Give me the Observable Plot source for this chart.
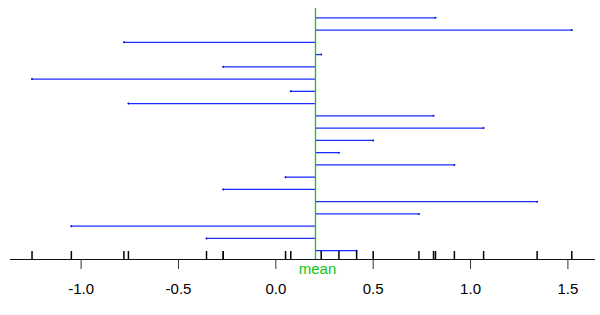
<!DOCTYPE html>
<html>
<head>
<meta charset="utf-8">
<script src="https://cdn.jsdelivr.net/npm/d3@7"></script>
<script src="https://cdn.jsdelivr.net/npm/@observablehq/plot@0.6"></script>
<style>
  html, body { margin: 0; padding: 0; background: #fff; }
</style>
</head>
<body>
<div id="chart"></div>
<script>
// Data
const rows = d3.range(1, 21);
const values = [0.82, 1.52, -0.78, 0.233, -0.27, -1.252, 0.077, -0.757, 0.81, 1.067,
                0.50, 0.324, 0.917, 0.05, -0.27, 1.342, 0.735, -1.05, -0.356, 0.415];
const tickValues = [-1.0, -0.5, 0.0, 0.5, 1.0, 1.5];
const meanLabel = ["mean"];

const mean = d3.mean(values);
const table = rows.map((r, i) => ({row: r, value: values[i]}));

const blue = "#1a2cff";
const green = "#11c411";

const chart = Plot.plot({
  width: 600,
  height: 315,
  marginTop: 8,
  marginBottom: 56,
  marginLeft: 10,
  marginRight: 6,
  style: {fontFamily: "'Liberation Sans', Arial, sans-serif", fontSize: "15px", background: "#fff"},
  x: {domain: [-1, 1.5], range: [80.6, 567.4]},
  y: {type: "linear", domain: [1, 20], range: [17.3, 250.2], axis: null},
  marks: [
    Plot.frame({anchor: "bottom", stroke: "#111"}),
    Plot.axisX({ticks: tickValues, tickFormat: d => d.toFixed(1), tickSize: 10, tickPadding: 14,
                fontSize: 15, stroke: "#333", fill: "#000", label: null}),
    Plot.ruleY(table, {y: "row", x1: mean, x2: "value", stroke: blue, strokeWidth: 1.3}),
    Plot.dot(table, {y: "row", x: "value", r: 1, fill: "#0010c0", stroke: null}),
    Plot.ruleX([mean], {stroke: green, strokeWidth: 1.3}),
    Plot.tickX(values, {x: d => d, insetTop: 243, stroke: "#000", strokeWidth: 1.5}),
    Plot.text(meanLabel, {x: mean, frameAnchor: "bottom", lineAnchor: "top", dy: 4, dx: 2,
                          text: d => d, fill: green, fontSize: 15})
  ]
});
document.getElementById("chart").appendChild(chart);
</script>
</body>
</html>
